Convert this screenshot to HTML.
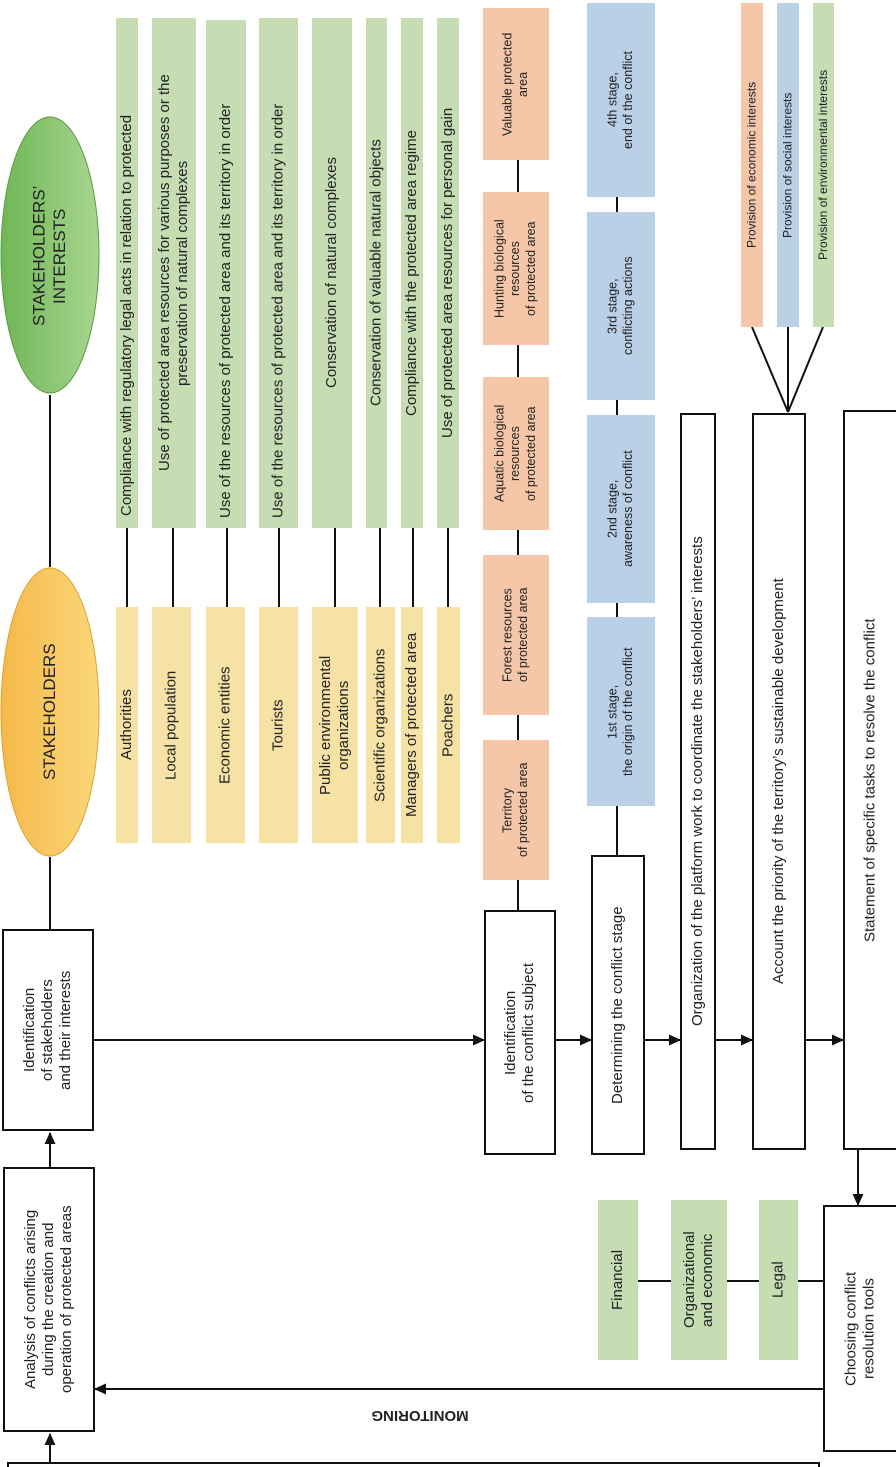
<!DOCTYPE html>
<html><head><meta charset="utf-8"><style>
body{margin:0;background:#fff;}
#c{position:relative;width:896px;height:1467px;overflow:hidden;font-family:"Liberation Sans",sans-serif;color:#222;}
.v{position:absolute;display:flex;align-items:center;justify-content:center;writing-mode:vertical-rl;transform:rotate(180deg);text-align:center;box-sizing:border-box;line-height:1.2;overflow:hidden;}
.g{background:#c6ddb3;font-size:15px;}
.y{background:#f6e2a4;font-size:15px;}
.o{background:#f5c7a8;font-size:12.5px;line-height:1.25;}
.b{background:#b9d0e7;font-size:12.5px;line-height:1.25;}
.bx{border:2px solid #111;background:#fff;font-size:15px;}
svg{position:absolute;left:0;top:0;}
</style></head><body><div id="c">
<svg width="896" height="1467">
<defs><marker id="a" markerWidth="12" markerHeight="12" refX="11" refY="6" orient="auto" markerUnits="userSpaceOnUse"><path d="M0,0.5 L12,6 L0,11.5z" fill="#111"/></marker>
<linearGradient id="gg" x1="0" x2="1"><stop offset="0" stop-color="#6fb655"/><stop offset="1" stop-color="#a8d690"/></linearGradient>
<linearGradient id="yg" x1="0" x2="1"><stop offset="0" stop-color="#f4b948"/><stop offset="1" stop-color="#fbd67a"/></linearGradient></defs>
<g stroke="#111" stroke-width="2" fill="none">
<line x1="50" y1="395" x2="50" y2="567"/>
<line x1="50" y1="857" x2="50" y2="929"/>
<line x1="50" y1="1167" x2="50" y2="1133" marker-end="url(#a)"/>
<line x1="50" y1="1463" x2="50" y2="1434" marker-end="url(#a)"/>
<line x1="94" y1="1040" x2="484" y2="1040" marker-end="url(#a)"/>
<line x1="556" y1="1040" x2="591" y2="1040" marker-end="url(#a)"/>
<line x1="645" y1="1040" x2="680" y2="1040" marker-end="url(#a)"/>
<line x1="716" y1="1040" x2="752" y2="1040" marker-end="url(#a)"/>
<line x1="806" y1="1040" x2="843" y2="1040" marker-end="url(#a)"/>
<line x1="858" y1="1150" x2="858" y2="1205" marker-end="url(#a)"/>
<line x1="823" y1="1389" x2="95" y2="1389" marker-end="url(#a)"/>
<line x1="518" y1="880" x2="518" y2="910"/>
<line x1="518" y1="8" x2="518" y2="740"/>
<line x1="617" y1="3" x2="617" y2="855"/>
<line x1="638" y1="1281" x2="823" y2="1281"/>
<line x1="752" y1="327" x2="788" y2="412"/>
<line x1="788" y1="327" x2="788" y2="412"/>
<line x1="823" y1="327" x2="788" y2="412"/>
<rect x="8" y="1463" width="811" height="20"/>
</g>
<g stroke="#111" stroke-width="2">
<line x1="127" y1="528" x2="127" y2="607"/><line x1="173" y1="528" x2="173" y2="607"/>
<line x1="227" y1="528" x2="227" y2="607"/><line x1="279" y1="528" x2="279" y2="607"/>
<line x1="335" y1="528" x2="335" y2="607"/><line x1="380" y1="528" x2="380" y2="607"/>
<line x1="413" y1="528" x2="413" y2="607"/><line x1="448" y1="528" x2="448" y2="607"/>
</g>
<ellipse cx="50" cy="255" rx="49" ry="138" fill="url(#gg)" stroke="#5a9a45" stroke-width="1"/>
<ellipse cx="50" cy="712" rx="49" ry="144" fill="url(#yg)" stroke="#e0a030" stroke-width="1"/>
</svg>
<div class="v" style="left:1px;top:118px;width:98px;height:276px;font-size:17px;">STAKEHOLDERS’<br>INTERESTS</div>
<div class="v" style="left:1px;top:567px;width:98px;height:290px;font-size:17px;">STAKEHOLDERS</div>

<div class="v g" style="left:116px;top:18px;width:22px;height:510px;justify-content:flex-start;padding-top:12px;white-space:nowrap;">Compliance with regulatory legal acts in relation to protected</div>
<div class="v g" style="left:152px;top:18px;width:44px;height:510px;">Use of protected area resources for various purposes or the<br>preservation of natural complexes</div>
<div class="v g" style="left:206px;top:20px;width:40px;height:508px;justify-content:flex-start;padding-top:10px;white-space:nowrap;">Use of the resources of protected area and its territory in order</div>
<div class="v g" style="left:259px;top:18px;width:39px;height:510px;justify-content:flex-start;padding-top:10px;white-space:nowrap;">Use of the resources of protected area and its territory in order</div>
<div class="v g" style="left:312px;top:18px;width:40px;height:510px;">Conservation of natural complexes</div>
<div class="v g" style="left:366px;top:18px;width:21px;height:510px;">Conservation of valuable natural objects</div>
<div class="v g" style="left:401px;top:18px;width:22px;height:510px;">Compliance with the protected area regime</div>
<div class="v g" style="left:437px;top:18px;width:22px;height:510px;">Use of protected area resources for personal gain</div>

<div class="v y" style="left:116px;top:607px;width:22px;height:236px;">Authorities</div>
<div class="v y" style="left:152px;top:607px;width:39px;height:236px;">Local population</div>
<div class="v y" style="left:206px;top:607px;width:39px;height:236px;">Economic entities</div>
<div class="v y" style="left:259px;top:607px;width:39px;height:236px;">Tourists</div>
<div class="v y" style="left:312px;top:607px;width:46px;height:236px;">Public environmental<br>organizations</div>
<div class="v y" style="left:366px;top:607px;width:29px;height:236px;">Scientific organizations</div>
<div class="v y" style="left:401px;top:607px;width:22px;height:236px;">Managers of protected area</div>
<div class="v y" style="left:437px;top:607px;width:23px;height:236px;">Poachers</div>

<div class="v o" style="left:483px;top:8px;width:66px;height:152px;">Valuable protected<br>area</div>
<div class="v o" style="left:483px;top:192px;width:66px;height:153px;">Hunting biological<br>resources<br>of protected area</div>
<div class="v o" style="left:483px;top:377px;width:66px;height:153px;">Aquatic biological<br>resources<br>of protected area</div>
<div class="v o" style="left:483px;top:555px;width:66px;height:160px;">Forest resources<br>of protected area</div>
<div class="v o" style="left:483px;top:740px;width:66px;height:140px;">Territory<br>of protected area</div>

<div class="v b" style="left:587px;top:3px;width:68px;height:194px;">4th stage,<br>end of the conflict</div>
<div class="v b" style="left:587px;top:212px;width:68px;height:188px;">3rd stage,<br>conflicting actions</div>
<div class="v b" style="left:587px;top:415px;width:68px;height:188px;">2nd stage,<br>awareness of conflict</div>
<div class="v b" style="left:587px;top:617px;width:68px;height:189px;">1st stage,<br>the origin of the conflict</div>

<div class="v b" style="left:741px;top:3px;width:22px;height:324px;background:#f5c7a8;font-size:12px;">Provision of economic interests</div>
<div class="v b" style="left:777px;top:3px;width:22px;height:324px;font-size:12px;">Provision of social interests</div>
<div class="v b" style="left:813px;top:3px;width:21px;height:324px;background:#c6ddb3;font-size:12px;">Provision of environmental interests</div>

<div class="v bx" style="left:2px;top:929px;width:92px;height:202px;">Identification<br>of stakeholders<br>and their interests</div>
<div class="v bx" style="left:3px;top:1167px;width:92px;height:265px;">Analysis of conflicts arising<br>during the creation and<br>operation of protected areas</div>
<div class="v bx" style="left:484px;top:910px;width:72px;height:245px;">Identification<br>of the conflict subject</div>
<div class="v bx" style="left:591px;top:855px;width:54px;height:300px;">Determining the conflict stage</div>
<div class="v bx" style="left:680px;top:413px;width:36px;height:737px;">Organization of the platform work to coordinate the stakeholders’ interests</div>
<div class="v bx" style="left:752px;top:413px;width:54px;height:737px;">Account the priority of the territory’s sustainable development</div>
<div class="v bx" style="left:843px;top:410px;width:55px;height:740px;">Statement of specific tasks to resolve the conflict</div>
<div class="v bx" style="left:823px;top:1205px;width:75px;height:247px;">Choosing conflict<br>resolution tools</div>

<div class="v g" style="left:598px;top:1200px;width:40px;height:160px;">Financial</div>
<div class="v g" style="left:671px;top:1200px;width:56px;height:160px;">Organizational<br>and economic</div>
<div class="v g" style="left:759px;top:1200px;width:39px;height:160px;">Legal</div>

<div style="position:absolute;left:340px;top:1407px;width:160px;text-align:center;font-weight:bold;font-size:15px;transform:rotate(180deg);">MONITORING</div>
</div></body></html>
